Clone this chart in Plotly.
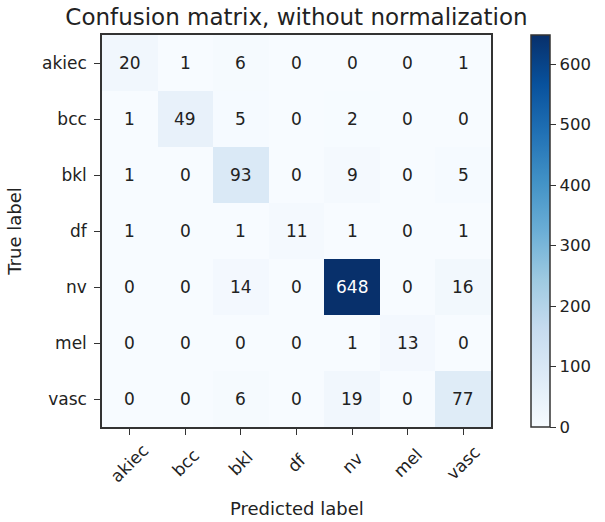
import plotly.graph_objects as go

labels = ["akiec", "bcc", "bkl", "df", "nv", "mel", "vasc"]
matrix = [
    [20, 1, 6, 0, 0, 0, 1],
    [1, 49, 5, 0, 2, 0, 0],
    [1, 0, 93, 0, 9, 0, 5],
    [1, 0, 1, 11, 1, 0, 1],
    [0, 0, 14, 0, 648, 0, 16],
    [0, 0, 0, 0, 1, 13, 0],
    [0, 0, 6, 0, 19, 0, 77],
]
cbar_ticks = [0, 100, 200, 300, 400, 500, 600]

blues = [
    [0.0, "#f7fbff"], [0.125, "#deebf7"], [0.25, "#c6dbef"], [0.375, "#9ecae1"],
    [0.5, "#6baed6"], [0.625, "#4292c6"], [0.75, "#2171b5"], [0.875, "#08519c"],
    [1.0, "#08306b"],
]

FONT = "DejaVu Sans"
TEXT = "#222222"
vmax = max(max(r) for r in matrix)
thresh = vmax / 2

fig = go.Figure(go.Heatmap(
    z=matrix, x=labels, y=labels, colorscale=blues, zmin=0, zmax=vmax,
    colorbar=dict(
        x=1.104, xanchor="left", xref="paper", y=0.5, yanchor="middle", len=1.0, lenmode="fraction",
        ypad=0, xpad=0,
        thickness=19, outlinecolor="#333333", outlinewidth=1.5,
        tickvals=cbar_ticks, ticks="outside", ticklen=6, tickcolor="#333333",
        tickfont=dict(family=FONT, size=16.5, color=TEXT),
    ),
    hoverinfo="skip",
))

annotations = []
for i, row in enumerate(matrix):
    for j, v in enumerate(row):
        annotations.append(dict(
            x=labels[j], y=labels[i], text=str(v), showarrow=False,
            font=dict(family=FONT, size=17, color="white" if v > thresh else TEXT),
        ))

# rotated x tick labels, centred under each tick (matplotlib rotation=45, ha=center)
for lab in labels:
    annotations.append(dict(
        x=lab, xref="x", y=-0.092, yref="paper", text=lab, textangle=-45,
        showarrow=False, xanchor="center", yanchor="middle",
        font=dict(family=FONT, size=17, color=TEXT),
    ))
annotations.append(dict(
    x=0.5, xref="paper", y=-0.209, yref="paper", text="Predicted label",
    showarrow=False, xanchor="center", yanchor="middle",
    font=dict(family=FONT, size=18, color=TEXT),
))

fig.update_layout(
    width=605, height=522,
    margin=dict(l=102, r=110, t=35, b=95),
    paper_bgcolor="white", plot_bgcolor="white",
    title=dict(text="Confusion matrix, without normalization", x=0.5, xref="paper",
               xanchor="center", y=1 - 17 / 522, yanchor="middle",
               font=dict(family=FONT, size=23, color=TEXT)),
    annotations=annotations,
    font=dict(family=FONT, color=TEXT),
)
fig.update_xaxes(
    ticks="outside", ticklen=6, tickcolor="#333333", showticklabels=False,
    showline=True, linecolor="#333333", linewidth=1.5, mirror=True,
    showgrid=False, zeroline=False, automargin=False,
)
fig.update_yaxes(
    autorange="reversed", ticks="outside", ticklen=6, tickcolor="#333333",
    tickfont=dict(family=FONT, size=17, color=TEXT), ticklabelstandoff=4,
    showline=True, linecolor="#333333", linewidth=1.5, mirror=True,
    title=dict(text="True label", font=dict(family=FONT, size=18, color=TEXT), standoff=16),
    showgrid=False, zeroline=False, automargin=False,
)

fig.write_html("out.html", post_script="document.body.style.margin='0';",
               config={"displayModeBar": False})
